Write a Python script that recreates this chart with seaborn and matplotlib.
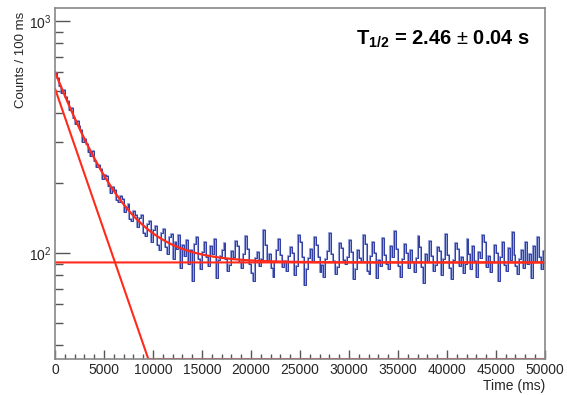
import numpy as np
import pandas as pd
import matplotlib
matplotlib.use("Agg")
import matplotlib.pyplot as plt
import matplotlib.ticker as mticker
import seaborn as sns

# ---------------- data ----------------
bin_width_ms = 200
counts = [
    596, 566, 522, 489, 503, 471, 452, 412, 420, 381,
    359, 372, 352, 338, 301, 309, 296, 271, 262, 275,
    248, 234, 240, 231, 208, 216, 214, 194, 181, 193,
    186, 169, 165, 176, 171, 150, 158, 163, 140, 137,
    151, 146, 129, 141, 145, 122, 118, 133, 137, 111,
    125, 131, 108, 103, 122, 127, 106, 99, 117, 121,
    94, 112, 104, 119, 86, 108, 97, 114, 90, 103,
    76, 109, 117, 94, 85, 101, 112, 96, 88, 107,
    99, 115, 78, 93,
    97, 103, 110, 94, 84, 89, 102, 96, 113, 107, 91, 86, 99, 118, 104, 90,
    82, 76, 95, 101, 88, 94, 125, 108, 93, 99, 86, 79, 91, 103, 115, 98,
    87, 92, 84, 97, 106, 100, 80, 88, 119, 111, 96, 73, 85, 95, 104, 91,
    117, 108, 96, 83, 89, 79, 94, 102, 122, 99, 92, 81, 87, 110, 105, 93,
    90, 96, 114, 101, 77, 85, 103, 95, 91, 120, 109, 84, 81, 97, 111, 100,
    78, 93, 88, 116, 98, 90, 85, 107, 96, 124, 104, 88, 79, 94, 109, 100,
    86, 103, 91, 83, 95, 118, 106, 87, 74, 99, 92, 113, 97, 84, 89, 106,
    102, 80, 94, 121, 98, 86, 77, 93, 110, 104, 88, 96, 82, 90, 115, 99,
    85, 107, 92, 79, 101, 95, 119, 112, 87, 97, 83, 91, 108, 100, 76, 96,
    112, 89, 84, 105, 93, 123, 98, 88, 81, 94, 103, 86, 111, 90, 99, 78,
    107, 92, 117, 96, 85, 102,
]

# fit parameters
half_life_ms = 2460.0
decay_amp = 511.0
background = 91.0

x_range = [0, 50000]
y_range = [34.9, 1138]
x_major = [0, 5000, 10000, 15000, 20000, 25000, 30000, 35000, 40000, 45000, 50000]
label_text = r"$\mathbf{T_{1/2}}$ = 2.46 $\pm$ 0.04 s"

# ---------------- build frames ----------------
centers = (np.arange(len(counts)) + 0.5) * bin_width_ms
df_hist = pd.DataFrame({"t": centers, "counts": counts})

t_fine = np.linspace(x_range[0], x_range[1], 2001)
lam = np.log(2) / half_life_ms
decay = decay_amp * np.exp(-lam * t_fine)
df_fit = pd.DataFrame({
    "t": t_fine,
    "total": decay + background,
    "decay": np.maximum(decay, y_range[0]),
    "bg": np.full_like(t_fine, background),
})

# ---------------- plot ----------------
sns.set_theme(style="white")
plt.rcParams["font.family"] = ["Liberation Sans", "DejaVu Sans"]
plt.rcParams["mathtext.fontset"] = "custom"
plt.rcParams["mathtext.rm"] = "Liberation Sans"
plt.rcParams["mathtext.bf"] = "Liberation Sans:bold"
plt.rcParams["mathtext.it"] = "Liberation Sans:italic"

fig = plt.figure(figsize=(5.67, 3.95), dpi=100)
ax = fig.add_axes([0.097, 0.0911, 0.864, 0.889])

sns.lineplot(data=df_hist, x="t", y="counts", ax=ax, color="#7585cc",
             linewidth=1.5, drawstyle="steps-mid", alpha=0.8)
sns.lineplot(data=df_hist, x="t", y="counts", ax=ax, color="#1a2590",
             linewidth=0.55, drawstyle="steps-mid")
red = "#ff2a1a"
sns.lineplot(data=df_fit, x="t", y="bg", ax=ax, color=red, linewidth=1.5)
sns.lineplot(data=df_fit, x="t", y="decay", ax=ax, color=red, linewidth=1.5)
sns.lineplot(data=df_fit, x="t", y="total", ax=ax, color=red, linewidth=1.6)

ax.set_yscale("log")
ax.set_xlim(*x_range)
ax.set_ylim(*y_range)

ax.xaxis.set_major_locator(mticker.FixedLocator(x_major))
ax.xaxis.set_minor_locator(mticker.MultipleLocator(1000))
ax.set_xticklabels([str(v) for v in x_major])
ax.yaxis.set_major_locator(mticker.LogLocator(base=10))
ax.yaxis.set_minor_locator(mticker.LogLocator(base=10, subs=np.arange(2, 10)))
ax.yaxis.set_minor_formatter(mticker.NullFormatter())

tick_color = "#555555"
ax.tick_params(axis="y", which="major", direction="in", length=11, width=1.0,
               color=tick_color, labelsize=10, pad=2.5, left=True, right=False)
ax.tick_params(axis="y", which="minor", direction="in", length=5.5, width=1.0,
               color=tick_color, left=True, right=False)
ax.tick_params(axis="x", which="major", direction="in", length=6.5, width=1.0,
               color=tick_color, labelsize=10, pad=3, bottom=True, top=False)
ax.tick_params(axis="x", which="minor", direction="in", length=3.5, width=1.0,
               color=tick_color, bottom=True, top=False)

for sp in ax.spines.values():
    sp.set_color("#888888")
    sp.set_linewidth(1.2)

ax.set_xlabel("Time (ms)", fontsize=10, loc="right", labelpad=1)
ax.set_ylabel("Counts / 100 ms", fontsize=9.5, loc="top")
ax.yaxis.set_label_coords(-0.058, 0.99)

ax.text(0.969, 0.909, label_text, transform=ax.transAxes, ha="right", va="center",
        fontsize=14.5, fontweight="bold", color="black")

fig.savefig("out.png", dpi=100)
